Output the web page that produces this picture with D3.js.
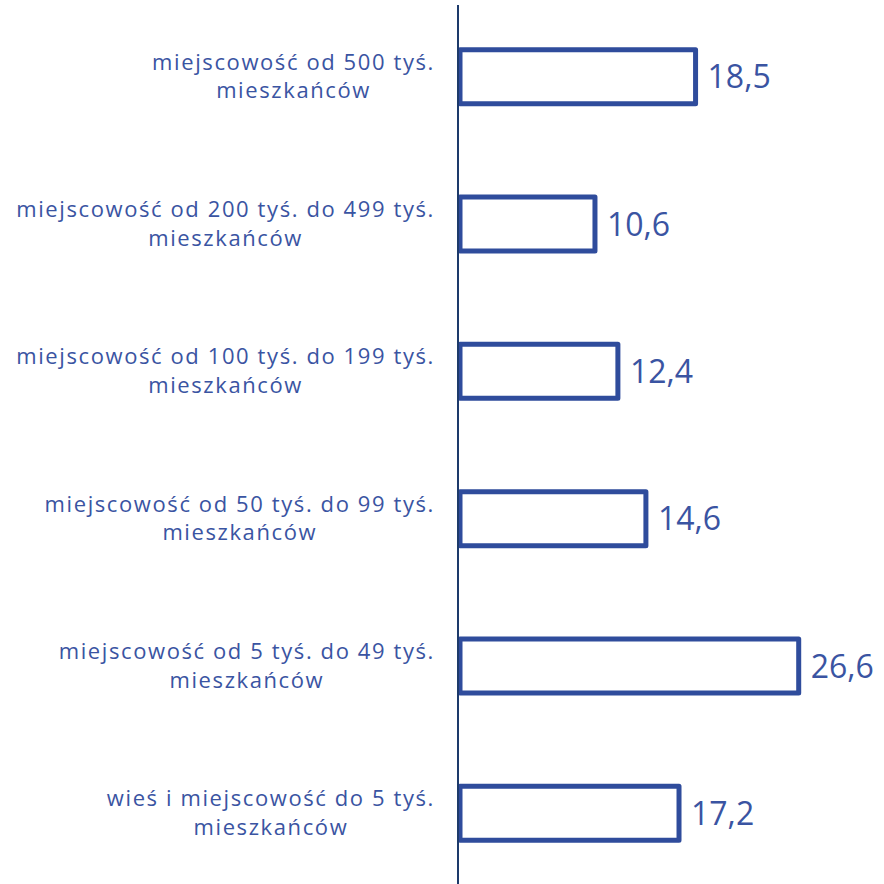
<!DOCTYPE html>
<html>
<head>
<meta charset="utf-8">
<script src="https://cdn.jsdelivr.net/npm/d3@7"></script>
<style>
  body { margin: 0; background: #fff; }
  svg { display: block; }
</style>
</head>
<body>
<div id="chart"></div>
<script>
// data
var categories = [
    ["miejscowość od 500 tyś.", "mieszkańców"],
    ["miejscowość od 200 tyś. do 499 tyś.", "mieszkańców"],
    ["miejscowość od 100 tyś. do 199 tyś.", "mieszkańców"],
    ["miejscowość od 50 tyś. do 99 tyś.", "mieszkańców"],
    ["miejscowość od 5 tyś. do 49 tyś.", "mieszkańców"],
    ["wieś i miejscowość do 5 tyś.", "mieszkańców"]
];
var values = [18.5, 10.6, 12.4, 14.6, 26.6, 17.2];
var valueLabels = ["18,5", "10,6", "12,4", "14,6", "26,6", "17,2"];

var width = 884, height = 884;
var barColor = "#2f4c9c";
var textColor = "#3a54a2";
var axisColor = "#1d3a6b";

var svg = d3.select("#chart").append("svg")
    .attr("width", width)
    .attr("height", height);

var idx = d3.range(values.length);

var y = d3.scaleBand()
    .domain(idx)
    .range([3, 887])
    .padding(0);

var x = d3.scaleLinear()
    .domain([0, 30])
    .range([460, 842]);

var barH = y.step() * 0.367;

// bars
svg.selectAll("rect.bar").data(idx)
    .enter().append("rect")
    .attr("class", "bar")
    .attr("x", x(0))
    .attr("y", function(i) { return y(i) + y.step() / 2 - barH / 2; })
    .attr("width", function(i) { return x(values[i]) - x(0); })
    .attr("height", barH)
    .attr("fill", "none")
    .attr("stroke", barColor)
    .attr("stroke-width", 5)
    .attr("stroke-linejoin", "round");

// axis line
svg.append("line")
    .attr("x1", 458).attr("x2", 458)
    .attr("y1", 5).attr("y2", height)
    .attr("stroke", axisColor)
    .attr("stroke-width", 2);

// value labels
svg.selectAll("text.val").data(idx)
    .enter().append("text")
    .attr("class", "val")
    .attr("x", function(i) { return x(values[i]) + 12; })
    .attr("y", function(i) { return y(i) + y.step() / 2 + 11.5; })
    .attr("font-family", "Open Sans, sans-serif")
    .attr("font-size", "32px")
    .attr("fill", textColor)
    .text(function(i) { return valueLabels[i]; });

// category labels, two lines centred on each other, block right-aligned
var labelRight = 435;
idx.forEach(function(i) {
    var cy = y(i) + y.step() / 2;
    var g = svg.append("text")
        .attr("font-family", "Open Sans, sans-serif")
        .attr("font-size", "22px")
        .attr("letter-spacing", "1.6px")
        .attr("fill", textColor)
        .attr("text-anchor", "middle");
    var spans = categories[i].map(function(line, k) {
        return g.append("tspan")
            .attr("y", cy - 7 + k * 28.5)
            .text(line);
    });
    var maxW = d3.max(spans, function(s) { return s.node().getComputedTextLength(); });
    spans.forEach(function(s) { s.attr("x", labelRight - maxW / 2); });
});
</script>
</body>
</html>
